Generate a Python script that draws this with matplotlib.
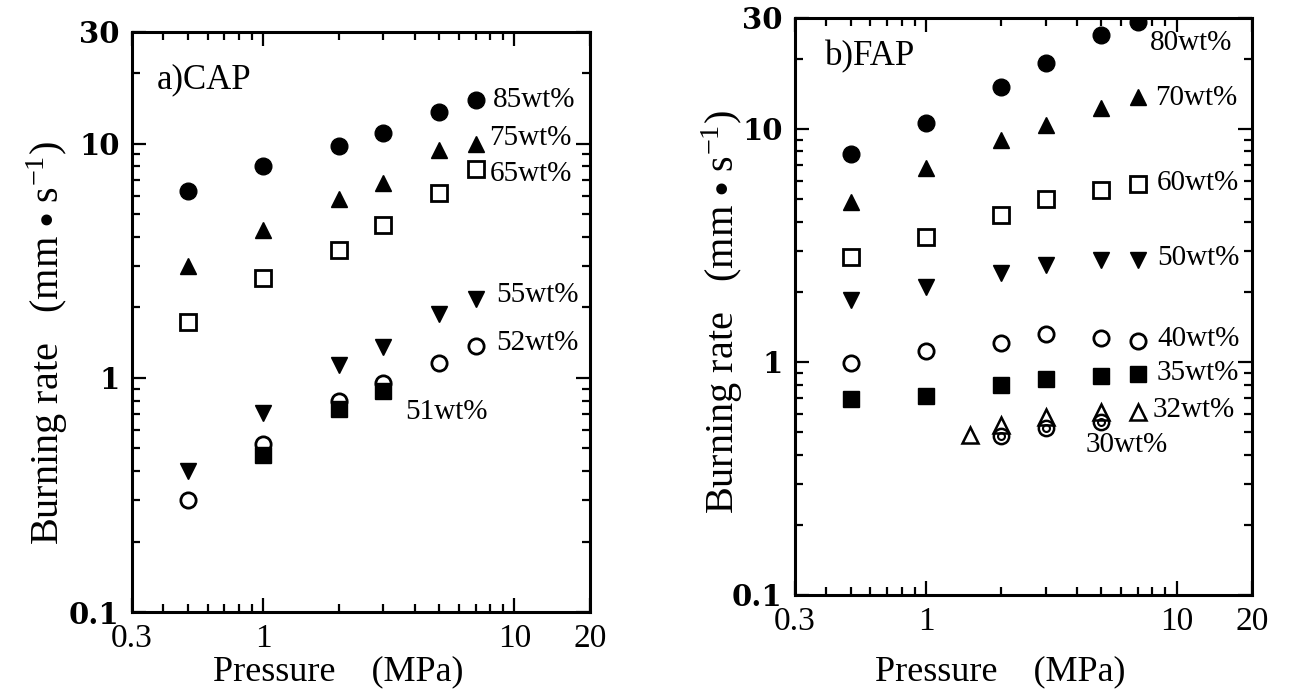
import numpy as np
import matplotlib
matplotlib.use('Agg')
import matplotlib.pyplot as plt
from matplotlib.ticker import LogLocator, NullFormatter

plt.rcParams['font.family'] = ['Liberation Serif', 'DejaVu Serif']
plt.rcParams['mathtext.fontset'] = 'stix'

# pressure (MPa)
pressure = [0.5, 1, 2, 3, 5, 7]

# a) CAP burning rates (mm/s)
cap_85 = [6.3, 8.0, 9.8, 11.1, 13.6, 15.3]
cap_75 = [3.0, 4.3, 5.8, 6.8, 9.4, 10.0]
cap_65 = [1.73, 2.67, 3.53, 4.5, 6.15, 7.8]
cap_55 = [0.40, 0.71, 1.13, 1.35, 1.87, 2.17]
cap_52 = [0.30, 0.52, 0.80, 0.95, 1.16, 1.37]
cap_51_p = [1, 2, 3]
cap_51 = [0.466, 0.735, 0.88]

# b) FAP burning rates (mm/s)
fap_80 = [7.8, 10.6, 15.1, 19.2, 25.3, 28.8]
fap_70 = [4.86, 6.8, 9.0, 10.4, 12.3, 13.7]
fap_60 = [2.82, 3.44, 4.27, 5.0, 5.47, 5.8]
fap_50 = [1.85, 2.10, 2.41, 2.61, 2.74, 2.74]
fap_40 = [0.99, 1.11, 1.21, 1.32, 1.27, 1.23]
fap_35 = [0.694, 0.714, 0.80, 0.845, 0.87, 0.89]
fap_32_p = [1.5, 2, 3, 5, 7]
fap_32 = [0.486, 0.537, 0.58, 0.61, 0.61]
fap_30_p = [2, 3, 5]
fap_30 = [0.48, 0.52, 0.553]

xticks = [0.3, 1, 10, 20]
xtick_labels = ['0.3', '1', '10', '20']
yticks = [0.1, 1, 10, 30]
ytick_labels = ['0.1', '1', '10', '30']

fig = plt.figure(figsize=(12.92, 6.98), dpi=100)
ax1 = fig.add_axes([0.1022, 0.1232, 0.3545, 0.831])
ax2 = fig.add_axes([0.6153, 0.1476, 0.3537, 0.827])

ms = 12
filled = dict(linestyle='none', color='black', markersize=ms)
opened = dict(linestyle='none', color='black', markersize=ms - 1, mfc='none', mew=2)

# ---- a) CAP
ax1.plot(pressure, cap_85, 'o', **filled)
ax1.plot(pressure, cap_75, '^', **filled)
ax1.plot(pressure, cap_65, 's', **opened)
ax1.plot(pressure, cap_55, 'v', **filled)
ax1.plot(cap_51_p, cap_51, 's', **filled)
ax1.plot(pressure, cap_52, 'o', **opened)

# ---- b) FAP
ax2.plot(pressure, fap_80, 'o', **filled)
ax2.plot(pressure, fap_70, '^', **filled)
ax2.plot(pressure, fap_60, 's', **opened)
ax2.plot(pressure, fap_50, 'v', **filled)
ax2.plot(pressure, fap_40, 'o', **opened)
ax2.plot(pressure, fap_35, 's', **filled)
ax2.plot(fap_30_p, fap_30, 'o', linestyle='none', color='black', markersize=11, mfc='none', mew=1.8)
ax2.plot(fap_30_p, fap_30, 'o', linestyle='none', color='black', markersize=5, mfc='none', mew=1.5)
ax2.plot(fap_32_p, fap_32, '^', linestyle='none', color='black', markersize=11, mfc='none', mew=1.8)

# series labels (axes fraction)
lab = dict(fontsize=21, va='center', ha='left')
ax1.text(0.788, 0.883, '85wt%', transform=ax1.transAxes, **lab)
ax1.text(0.780, 0.817, '75wt%', transform=ax1.transAxes, **lab)
ax1.text(0.780, 0.755, '65wt%', transform=ax1.transAxes, **lab)
ax1.text(0.795, 0.547, '55wt%', transform=ax1.transAxes, **lab)
ax1.text(0.795, 0.464, '52wt%', transform=ax1.transAxes, **lab)
ax1.text(0.597, 0.345, '51wt%', transform=ax1.transAxes, **lab)
ax1.text(0.055, 0.917, 'a)CAP', transform=ax1.transAxes, fontsize=25, va='center', ha='left')

ax2.text(0.777, 0.957, '80wt%', transform=ax2.transAxes, **lab)
ax2.text(0.788, 0.861, '70wt%', transform=ax2.transAxes, **lab)
ax2.text(0.792, 0.714, '60wt%', transform=ax2.transAxes, **lab)
ax2.text(0.792, 0.584, '50wt%', transform=ax2.transAxes, **lab)
ax2.text(0.792, 0.443, '40wt%', transform=ax2.transAxes, **lab)
ax2.text(0.792, 0.385, '35wt%', transform=ax2.transAxes, **lab)
ax2.text(0.783, 0.321, '32wt%', transform=ax2.transAxes, **lab)
ax2.text(0.635, 0.260, '30wt%', transform=ax2.transAxes, **lab)
ax2.text(0.066, 0.933, 'b)FAP', transform=ax2.transAxes, fontsize=25, va='center', ha='left')

for ax in (ax1, ax2):
    ax.set_xscale('log')
    ax.set_yscale('log')
    ax.set_xlim(0.3, 20)
    ax.set_ylim(0.1, 30)
    ax.set_xticks(xticks)
    ax.set_xticklabels(xtick_labels, fontsize=24)
    ax.set_yticks(yticks)
    ax.set_yticklabels(ytick_labels, fontsize=21, family='DejaVu Serif', weight='bold')
    ax.xaxis.set_minor_locator(LogLocator(base=10, subs=np.arange(2, 10)))
    ax.yaxis.set_minor_locator(LogLocator(base=10, subs=np.arange(2, 10)))
    ax.xaxis.set_minor_formatter(NullFormatter())
    ax.yaxis.set_minor_formatter(NullFormatter())
    ax.tick_params(which='both', direction='in', top=True, right=True, width=1.6)
    ax.tick_params(which='major', length=10)
    ax.tick_params(which='minor', length=6)
    ax.tick_params(axis='x', pad=8)
    ax.tick_params(axis='y', pad=9)
    for sp in ax.spines.values():
        sp.set_linewidth(2.2)
    ax.set_xlabel('Pressure    (MPa)', fontsize=26)
    ax.set_ylabel('Burning rate   (mm $\\bullet$ s$^{\\mathregular{-1}}$)', fontsize=29)
    ax.xaxis.label.set_va('center')
    ax.yaxis.label.set_va('center')

ax1.xaxis.set_label_coords(0.45, -0.103)
ax1.yaxis.set_label_coords(-0.185, 0.464)
ax2.xaxis.set_label_coords(0.449, -0.133)
ax2.yaxis.set_label_coords(-0.160, 0.49)

plt.savefig('out.png', dpi=100)
